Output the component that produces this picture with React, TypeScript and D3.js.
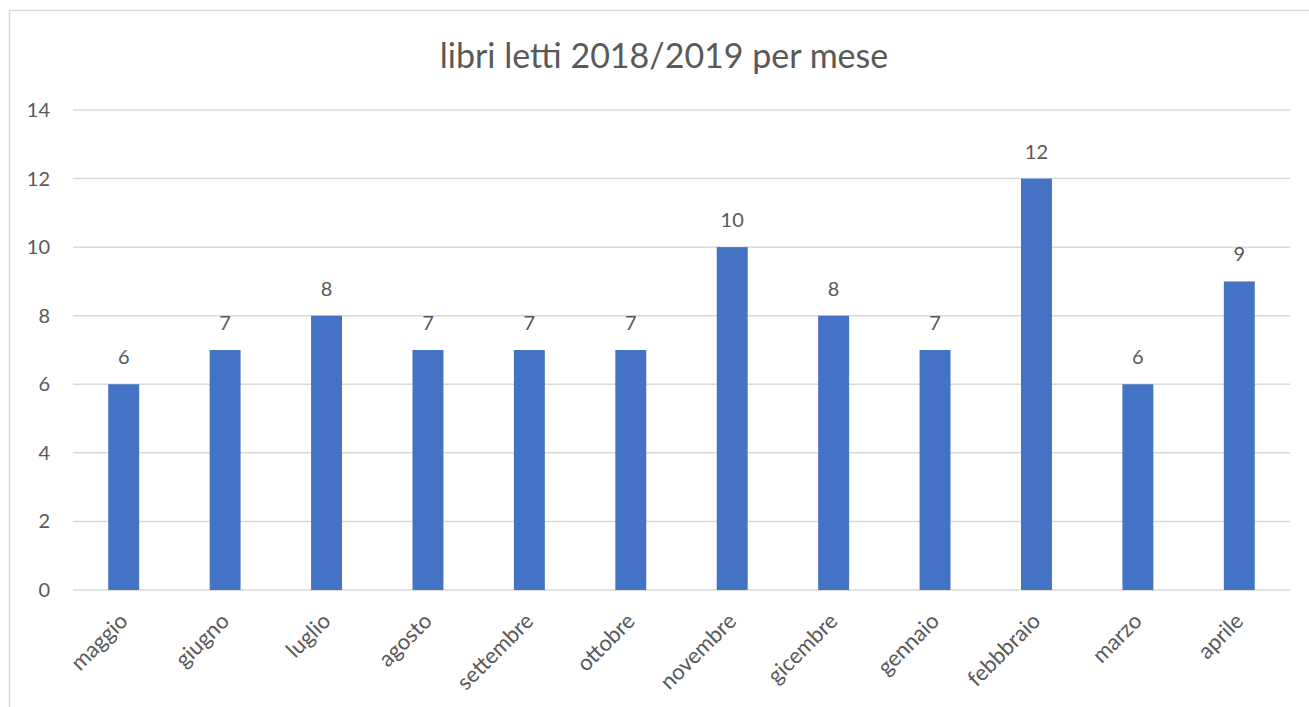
import React, { useEffect, useRef } from 'react';
import * as d3 from 'd3';

// --- Data ---
const months = ['maggio', 'giugno', 'luglio', 'agosto', 'settembre', 'ottobre', 'novembre', 'gicembre', 'gennaio', 'febbbraio', 'marzo', 'aprile'];
const booksRead = [6, 7, 8, 7, 7, 7, 10, 8, 7, 12, 6, 9];
const yTicks = [0, 2, 4, 6, 8, 10, 12, 14];
const chartTitle = 'libri letti 2018/2019 per mese';

const W = 1309;
const H = 707;
const FONT = 'Lato, "Open Sans", sans-serif';
const TEXT = '#595959';
const GRID = '#D9D9D9';
const BAR = '#4472C4';

const App = () => {
  const ref = useRef<SVGSVGElement | null>(null);

  useEffect(() => {
    if (!ref.current) return;
    const svg = d3.select(ref.current);
    svg.selectAll('*').remove();

    const margin = { top: 110, right: 19, bottom: 117, left: 73 };

    // chart frame
    svg.append('rect').attr('x', 9.5).attr('y', 10.5).attr('width', W).attr('height', H)
      .attr('fill', '#fff').attr('stroke', GRID).attr('stroke-width', 1.5);

    svg.append('text').attr('x', 664).attr('y', 68).attr('text-anchor', 'middle')
      .attr('font-family', FONT).attr('font-size', 34).attr('fill', TEXT).text(chartTitle);

    const x = d3.scaleBand().domain(months).range([margin.left, W - margin.right]).padding(0);
    const y = d3.scaleLinear().domain([0, 14]).range([H - margin.bottom, margin.top]);
    const barW = x.bandwidth() * 0.305;

    const g = svg.append('g');
    g.selectAll('.grid').data(yTicks).enter().append('line')
      .attr('x1', margin.left).attr('x2', W - margin.right)
      .attr('y1', d => y(d)).attr('y2', d => y(d))
      .attr('stroke', GRID).attr('stroke-width', 1.5);

    g.selectAll('.ytick').data(yTicks).enter().append('text')
      .attr('x', 50).attr('y', d => y(d)).attr('dy', '0.35em').attr('text-anchor', 'end')
      .attr('font-family', FONT).attr('font-size', 20).attr('fill', TEXT).text(d => d);

    const data = months.map((m, i) => ({ m, v: booksRead[i] }));
    g.selectAll('.bar').data(data).enter().append('rect')
      .attr('x', d => (x(d.m) as number) + x.bandwidth() / 2 - barW / 2)
      .attr('y', d => y(d.v)).attr('width', barW).attr('height', d => y(0) - y(d.v))
      .attr('fill', BAR);

    g.selectAll('.lbl').data(data).enter().append('text')
      .attr('x', d => (x(d.m) as number) + x.bandwidth() / 2).attr('y', d => y(d.v) - 20)
      .attr('text-anchor', 'middle').attr('font-family', FONT).attr('font-size', 20)
      .attr('fill', TEXT).text(d => d.v);

    g.selectAll('.xlbl').data(months).enter().append('text')
      .attr('transform', d => `translate(${(x(d) as number) + x.bandwidth() / 2},${y(0) + 27}) rotate(-45)`)
      .attr('text-anchor', 'end').attr('dy', '0.35em').attr('font-family', FONT).attr('font-size', 22)
      .attr('fill', TEXT).text(d => d);
  }, []);

  return (
    <svg ref={ref} width={W} height={H} style={{ position: 'absolute', left: 0, top: 0, background: '#fff' }} />
  );
};

export default App;
